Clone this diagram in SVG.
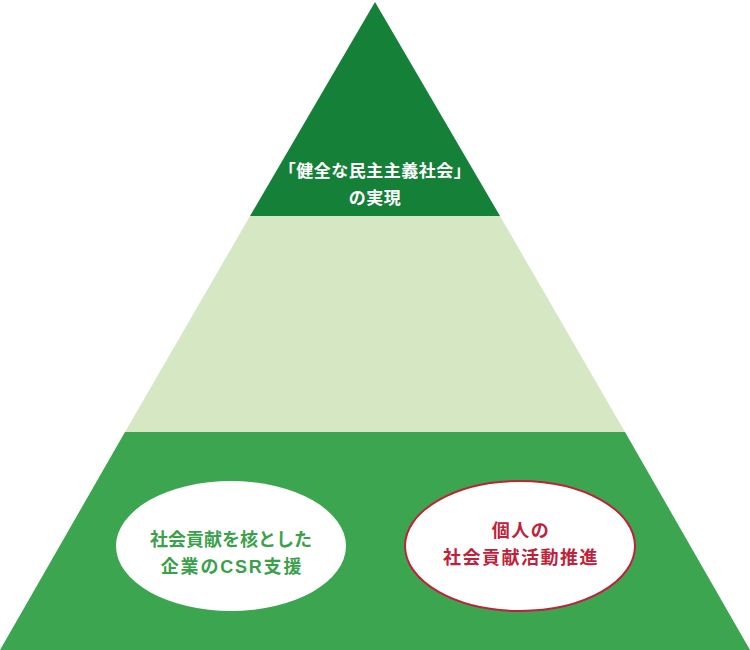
<svg xmlns="http://www.w3.org/2000/svg" width="750" height="650" viewBox="0 0 750 650">
<style>
.t{font-family:"Liberation Sans","Noto Sans CJK JP",sans-serif;font-weight:bold;text-anchor:middle}
</style>
<rect width="750" height="650" fill="#ffffff"/>
<g id="top">
<polygon points="375,2 500,216 250,216" fill="#158038"/>
<text class="t" x="375" y="177" font-size="17" letter-spacing="0.5" fill="#ffffff">「健全な民主主義社会」</text>
<text class="t" x="375" y="204" font-size="17" letter-spacing="0.5" fill="#ffffff">の実現</text>
</g>
<g id="middle">
<polygon points="250,216 500,216 625,432 125,432" fill="#d6e8c3"/>
</g>
<g id="bottom">
<polygon points="125,432 625,432 750,650 0,650" fill="#3ca550"/>
</g>
<g id="csr">
<ellipse cx="231" cy="546" rx="115" ry="65" fill="#ffffff"/>
<text class="t" x="231" y="546" font-size="18" fill="#3aa14a">社会貢献を核とした</text>
<text class="t" x="232" y="573" font-size="18" letter-spacing="1.8" fill="#3aa14a">企業のCSR支援</text>
</g>
<g id="personal">
<ellipse cx="520" cy="546" rx="115" ry="65" fill="#ffffff" stroke="#c0213a" stroke-width="2"/>
<text class="t" x="521" y="537" font-size="18" letter-spacing="1.5" fill="#c0213a">個人の</text>
<text class="t" x="521" y="564" font-size="18" letter-spacing="1.5" fill="#c0213a">社会貢献活動推進</text>
</g>
<g id="connectors"></g>
</svg>
